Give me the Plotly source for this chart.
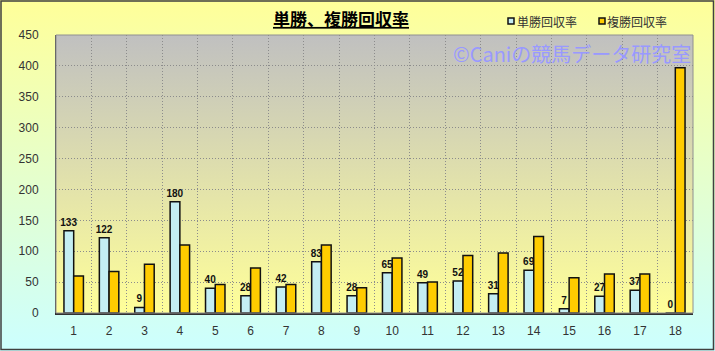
import base64
import plotly.graph_objects as go

categories = list(range(1, 19))
tansho = [133, 122, 9, 180, 40, 28, 42, 83, 28, 65, 49, 52, 31, 69, 7, 27, 37, 0]
fukusho = [60, 67, 79, 110, 46, 73, 46, 110, 41, 89, 50, 93, 97, 124, 57, 63, 63, 397]
series_names = ["単勝回収率", "複勝回収率"]
series_colors = ["#C4EEF3", "#FFCC00"]
y_ticks = list(range(0, 451, 50))

W, H = 715, 351
ML, MR, MT, MB = 56, 22, 35, 38
PW, PH = W - ML - MR, H - MT - MB


def grad_svg(top, bottom):
    svg = (
        '<svg xmlns="http://www.w3.org/2000/svg" width="100" height="100" preserveAspectRatio="none">'
        '<defs><linearGradient id="g" x1="0" y1="0" x2="0" y2="1">'
        f'<stop offset="0" stop-color="{top}"/><stop offset="1" stop-color="{bottom}"/>'
        '</linearGradient></defs><rect width="100" height="100" fill="url(#g)"/></svg>'
    )
    return "data:image/svg+xml;base64," + base64.b64encode(svg.encode()).decode()


x0o, x1o = -ML / PW, 1 + MR / PW
y0o, y1o = -MB / PH, 1 + MT / PH

fig = go.Figure()
fig.add_trace(go.Bar(
    x=categories, y=tansho, name=series_names[0], showlegend=False,
    marker=dict(color=series_colors[0], line=dict(color="#111111", width=1.5)),
    text=[str(v) for v in tansho], textposition="outside", constraintext="none",
    cliponaxis=False,
    outsidetextfont=dict(size=10, color="#111111", family="Liberation Sans, Arial"),
    texttemplate="<b>%{text}</b>",
))
fig.add_trace(go.Bar(
    x=categories, y=fukusho, name=series_names[1], showlegend=False,
    marker=dict(color=series_colors[1], line=dict(color="#111111", width=1.5)),
))

# legend (markers + labels), placed in container pixels
legend_items = [(508, 515), (599, 605)]
shapes = [
    dict(type="rect", xref="paper", yref="paper",
         x0=x0o + 1 / PW, x1=x1o - 1.5 / PW, y0=y0o + 1.5 / PH, y1=y1o - 1 / PH,
         line=dict(color="#404040", width=1.5), layer="above"),
    dict(type="rect", xref="paper", yref="paper", x0=0, x1=1, y0=0, y1=1,
         line=dict(color="#909090", width=1), layer="above"),
]
annotations = [
    dict(text="©Caniの競馬データ研究室", xref="paper", yref="paper",
         x=1, xanchor="right", y=1 - 18 / PH, yanchor="middle", showarrow=False,
         font=dict(family="Noto Sans CJK JP", size=20, color="#9999FF")),
]
for (mx, tx), name, col in zip(legend_items, series_names, series_colors):
    px0 = (mx - ML) / PW
    px1 = (mx + 6 - ML) / PW
    py0 = (H - 24 - MB) / PH
    py1 = (H - 18 - MB) / PH
    shapes.append(dict(type="rect", xref="paper", yref="paper", x0=px0, x1=px1, y0=py0, y1=py1,
                       fillcolor=col, line=dict(color="#111111", width=1.5), layer="above"))
    annotations.append(dict(text=name, xref="paper", yref="paper", x=(tx - ML) / PW, xanchor="left",
                            y=(H - 21 - MB) / PH, yanchor="middle", showarrow=False,
                            font=dict(family="Noto Sans CJK JP", size=12, color="#333333")))

fig.update_layout(
    width=W, height=H,
    margin=dict(l=ML, r=MR, t=MT, b=MB, pad=0),
    paper_bgcolor="#FFFF99",
    plot_bgcolor="rgba(0,0,0,0)",
    showlegend=False,
    barmode="group", bargap=0.45, bargroupgap=0,
    font=dict(family="Liberation Sans, Arial", size=12, color="#333333"),
    title=dict(text="<b><u>単勝、複勝回収率</u></b>", x=341 / W, xanchor="center",
               y=1 - 20 / H, yanchor="middle",
               font=dict(family="Noto Sans CJK JP", size=17, color="#000000")),
    images=[
        dict(source=grad_svg("#FFFF99", "#CCFFFF"), xref="paper", yref="paper",
             x=x0o, y=y1o, sizex=x1o - x0o, sizey=y1o - y0o, sizing="stretch",
             xanchor="left", yanchor="top", layer="below"),
        dict(source=grad_svg("#C0C0C0", "#FFFF99"), xref="paper", yref="paper",
             x=0, y=1, sizex=1, sizey=1, sizing="stretch",
             xanchor="left", yanchor="top", layer="below"),
    ],
    shapes=shapes,
    annotations=annotations,
)

fig.update_xaxes(
    type="linear", range=[0.5, 18.5], tickmode="array", tickvals=categories,
    ticktext=[str(c) for c in categories], showgrid=False,
    ticks="outside", ticklen=6, tickcolor="rgba(0,0,0,0)",
    showline=True, linecolor="#303030", linewidth=2,
    tickfont=dict(size=12, color="#333333"),
    minor=dict(tick0=0.5, dtick=1, showgrid=True, gridcolor="#8c8c8c", griddash="1px,2px", gridwidth=1),
    zeroline=False, fixedrange=True,
)
fig.update_yaxes(
    range=[0, 450], tickmode="array", tickvals=y_ticks,
    showgrid=True, gridcolor="#8c8c8c", griddash="1px,2px", gridwidth=1,
    ticks="outside", ticklen=14, tickcolor="rgba(0,0,0,0)",
    showline=True, linecolor="#404040", linewidth=1,
    tickfont=dict(size=12, color="#333333"),
    zeroline=False, fixedrange=True,
)

fig.write_html("out.html")
